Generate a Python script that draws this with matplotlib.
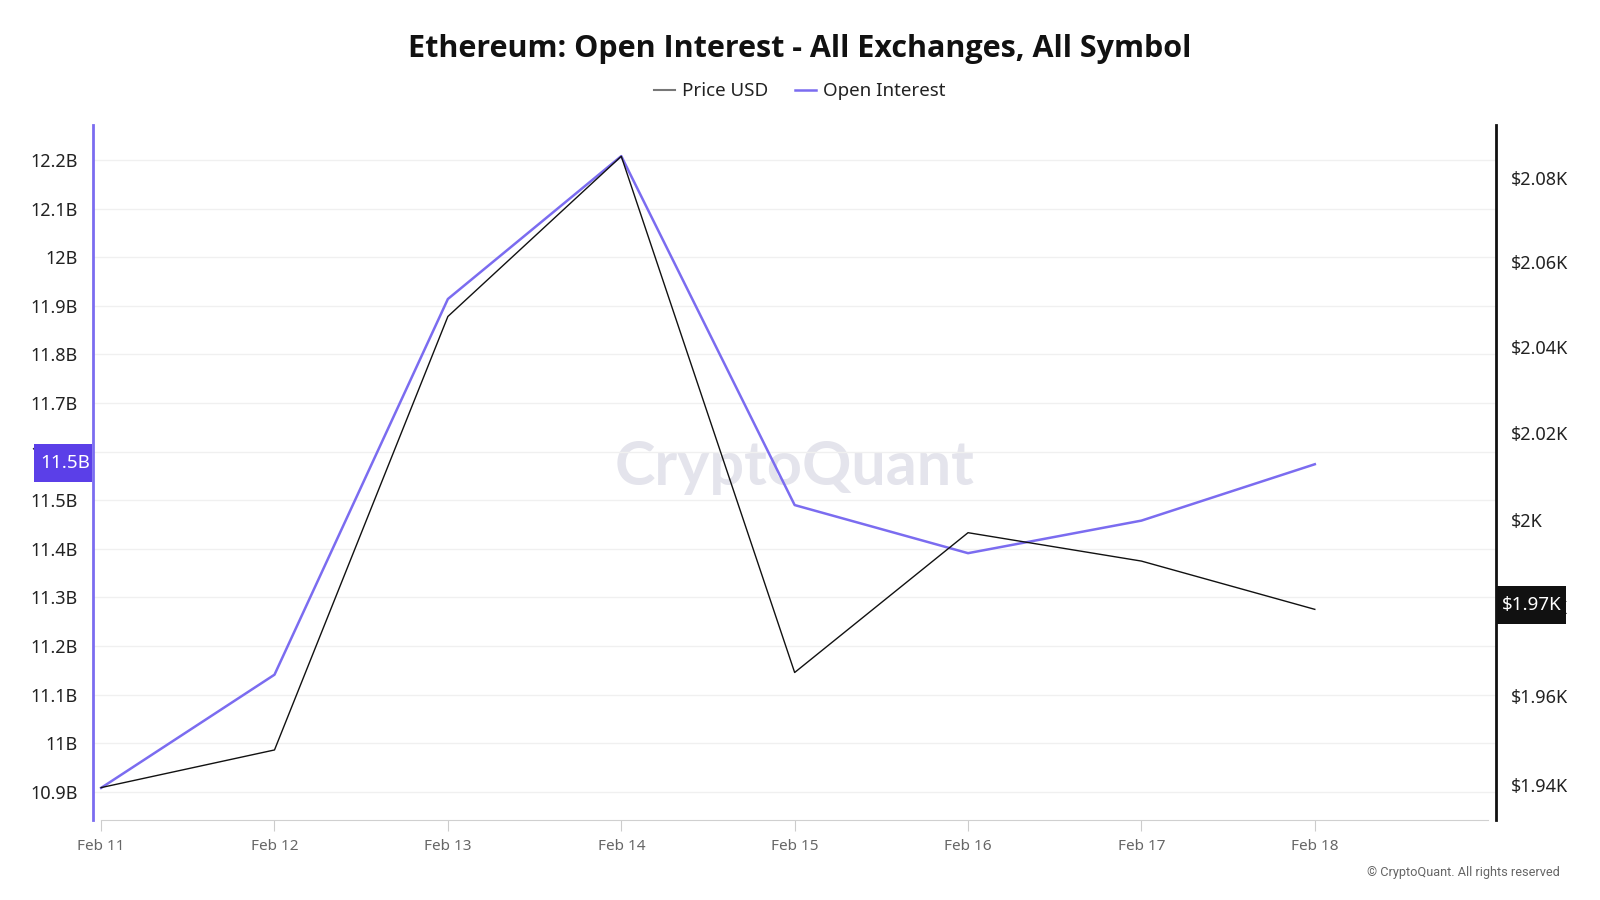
import numpy as np
import matplotlib.pyplot as plt
from matplotlib.patches import Rectangle
from matplotlib.ticker import FuncFormatter, FixedLocator, NullLocator

plt.rcParams['font.family'] = ['Noto Sans', 'DejaVu Sans']

dates = ['Feb 11', 'Feb 12', 'Feb 13', 'Feb 14', 'Feb 15', 'Feb 16', 'Feb 17', 'Feb 18']
open_interest = [10.908, 11.141, 11.914, 12.208, 11.490, 11.391, 11.458, 11.574]  # billions
price_usd = [1939.4, 1947.8, 2047.2, 2085.2, 1965.2, 1997.0, 1990.5, 1979.5]

oi_ticks = [10.9, 11.0, 11.1, 11.2, 11.3, 11.4, 11.5, 11.6, 11.7, 11.8, 11.9, 12.0, 12.1, 12.2]
price_ticks = [1940, 1960, 1980, 2000, 2020, 2040, 2060, 2080]
oi_label = '11.5B'
price_label = '$1.97K'

oi_color = '#7b6cf0'
price_color = '#111111'
x = np.arange(len(dates))

fig = plt.figure(figsize=(16, 9), dpi=100)
ax = fig.add_axes([0.0581, 0.0889, 0.935 - 0.0581, 0.8611 - 0.0889])
ax2 = ax.twinx()

# watermark
ax.text(0.5, 0.508, 'CryptoQuant', transform=ax.transAxes, ha='center', va='center',
        fontsize=44, color='#e4e4ec', family=['Lato', 'DejaVu Sans'], fontweight='bold', zorder=0)

ax.plot(x, open_interest, color=oi_color, lw=1.8, zorder=3, label='Open Interest')
ax2.plot(x, price_usd, color=price_color, lw=1.0, zorder=3, label='Price USD')

ax.set_xlim(-0.047, 8.045)
ax.set_ylim(10.842, 12.272)
ax2.set_yscale('log')
ax2.set_ylim(1932.2, 2092.7)

ax.yaxis.set_major_locator(FixedLocator(oi_ticks))
ax.yaxis.set_major_formatter(FuncFormatter(lambda v, p: f'{round(v, 1):g}B'))
ax2.yaxis.set_major_locator(FixedLocator(price_ticks))
ax2.yaxis.set_minor_locator(NullLocator())
ax2.yaxis.set_major_formatter(FuncFormatter(lambda v, p: f'${v / 1000:g}K'))

ax.set_xticks(x)
ax.set_xticklabels(dates)
ax.tick_params(axis='x', colors='#cccccc', labelcolor='#666666', labelsize=11, length=8, pad=6)
ax.tick_params(axis='y', length=0, labelsize=13, labelcolor='#222222', pad=11)
ax2.tick_params(axis='y', which='both', length=0, labelsize=13, labelcolor='#222222', pad=11)

ax.grid(axis='y', color='#f0f0f0', lw=1)
ax.set_axisbelow(True)

for a in (ax, ax2):
    for s in a.spines.values():
        s.set_visible(False)
ax.spines['bottom'].set_visible(True)
ax.spines['bottom'].set_color('#d0d0d0')
ax.spines['bottom'].set_bounds(0, 8.0)
ax2.spines['left'].set_visible(True)
ax2.spines['left'].set_color(oi_color)
ax2.spines['left'].set_linewidth(2)
ax2.spines['right'].set_visible(True)
ax2.spines['right'].set_color(price_color)
ax2.spines['right'].set_linewidth(2)

# current value markers on the axes
W, H = fig.get_size_inches() * fig.dpi
y_oi = fig.transFigure.inverted().transform(ax.transData.transform((0, open_interest[-1])))[1]
y_pr = fig.transFigure.inverted().transform(ax2.transData.transform((0, price_usd[-1])))[1]
bh = 38 / H
fig.patches.append(Rectangle((34.3 / W, y_oi + 1.5 / H - bh / 2), 58 / W, bh, transform=fig.transFigure,
                             fc='#5b3fe8', ec='none', zorder=4))
fig.text(40 / W, y_oi + 1.5 / H, oi_label, ha='left', va='center', fontsize=13.5, color='white', zorder=5)
fig.patches.append(Rectangle((1497 / W, y_pr + 4 / H - bh / 2), 69 / W, bh, transform=fig.transFigure,
                             fc='#111111', ec='none', zorder=4))
fig.text(1502 / W, y_pr + 4 / H, price_label, ha='left', va='center', fontsize=13.5, color='white', zorder=5)

fig.text(0.5, 0.9455, 'Ethereum: Open Interest - All Exchanges, All Symbol', ha='center', va='center',
         fontsize=22, fontweight='bold', color='#111111', family=['Open Sans', 'DejaVu Sans'])

h1, l1 = ax2.get_legend_handles_labels()
h2, l2 = ax.get_legend_handles_labels()
leg = fig.legend([plt.Line2D([], [], color='#777777', lw=1.5), h2[0]], l1 + l2,
                 loc='center', bbox_to_anchor=(0.5, 0.8985), ncol=2, frameon=False,
                 fontsize=13.5, handlelength=1.1, handletextpad=0.4, columnspacing=1.4,
                 labelcolor='#222222')

fig.text(0.975, 0.0306, '© CryptoQuant. All rights reserved', ha='right', va='center',
         fontsize=9.2, color='#666666', family=['Roboto', 'DejaVu Sans'])

fig.savefig('out.png', dpi=100)
